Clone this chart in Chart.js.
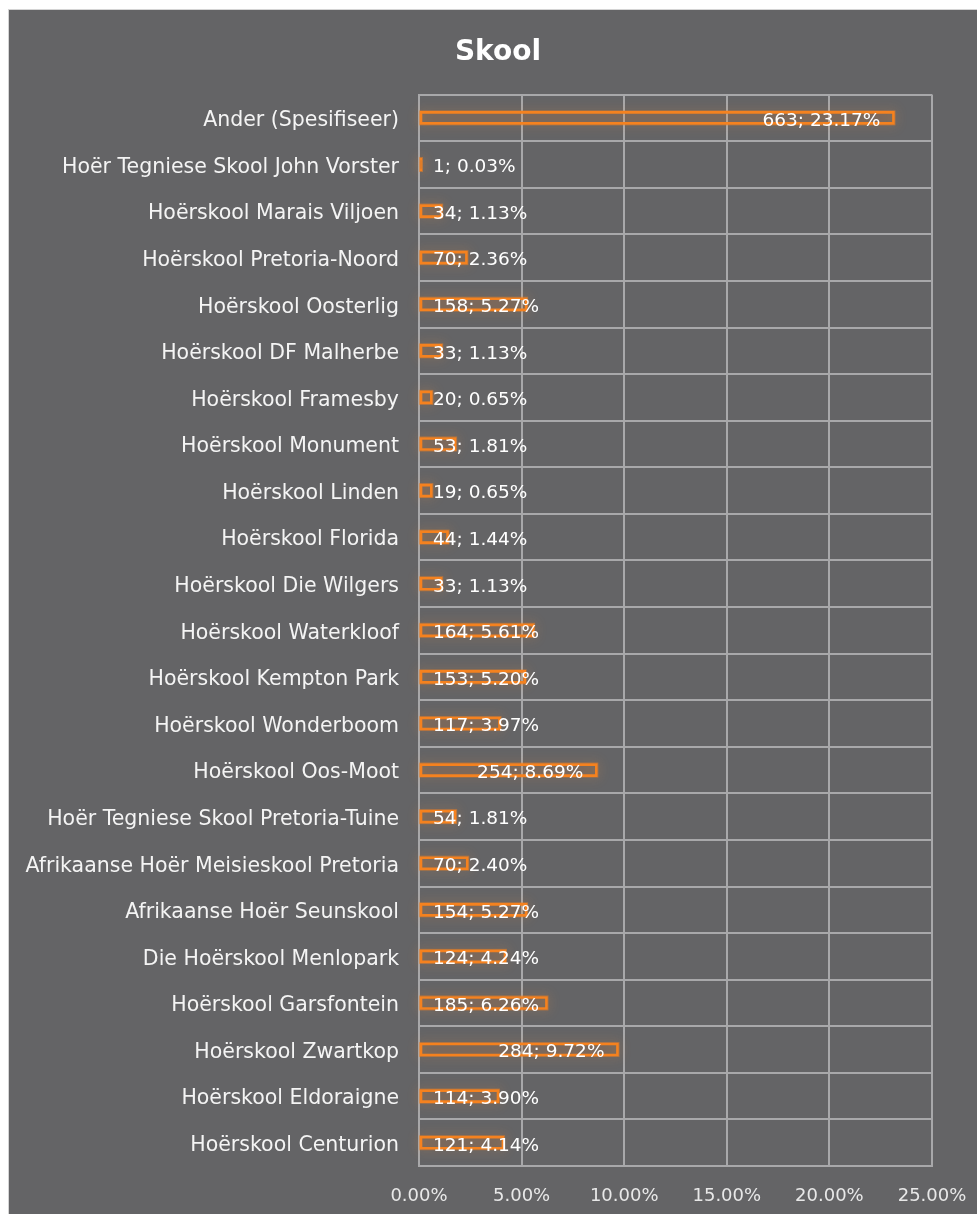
<!DOCTYPE html>
<html>
<head>
<meta charset="utf-8">
<script src="https://cdn.jsdelivr.net/npm/chart.js@4"></script>
<style>
  html, body { margin: 0; padding: 0; background: #ffffff; }
  #wrap {
    position: absolute;
    left: 8px;
    top: 9px;
    width: 969px;
    height: 1205px;
    background: #646466;
    border-left: 1px solid #d4d4d4;
    border-top: 1px solid #d4d4d4;
    box-sizing: border-box;
  }
</style>
</head>
<body>
<div id="wrap"><canvas id="chart"></canvas></div>
<script>
const schools = [
  "Ander (Spesifiseer)",
  "Hoër Tegniese Skool John Vorster",
  "Hoërskool Marais Viljoen",
  "Hoërskool Pretoria-Noord",
  "Hoërskool Oosterlig",
  "Hoërskool DF Malherbe",
  "Hoërskool Framesby",
  "Hoërskool Monument",
  "Hoërskool Linden",
  "Hoërskool Florida",
  "Hoërskool Die Wilgers",
  "Hoërskool Waterkloof",
  "Hoërskool Kempton Park",
  "Hoërskool Wonderboom",
  "Hoërskool Oos-Moot",
  "Hoër Tegniese Skool Pretoria-Tuine",
  "Afrikaanse Hoër Meisieskool Pretoria",
  "Afrikaanse Hoër Seunskool",
  "Die Hoërskool Menlopark",
  "Hoërskool Garsfontein",
  "Hoërskool Zwartkop",
  "Hoërskool Eldoraigne",
  "Hoërskool Centurion"
];
const counts = [663, 1, 34, 70, 158, 33, 20, 53, 19, 44, 33, 164, 153, 117, 254, 54, 70, 154, 124, 185, 284, 114, 121];
const percents = [23.17, 0.03, 1.13, 2.36, 5.27, 1.13, 0.65, 1.81, 0.65, 1.44, 1.13, 5.61, 5.20, 3.97, 8.69, 1.81, 2.40, 5.27, 4.24, 6.26, 9.72, 3.90, 4.14];
const xTicks = [0, 5, 10, 15, 20, 25];

const FONT = "'DejaVu Sans'";
const TEXT = "#f4f4f4";

// soft orange glow drawn around each bar before the bars themselves
const glow = {
  id: "glow",
  beforeDatasetsDraw(chart) {
    const ctx = chart.ctx;
    const meta = chart.getDatasetMeta(0);
    ctx.save();
    ctx.shadowColor = "rgba(250,150,60,0.9)";
    ctx.shadowBlur = 11;
    ctx.strokeStyle = "rgba(245,130,31,0.5)";
    ctx.lineWidth = 2;
    meta.data.forEach(bar => {
      const { x, y, base, height } = bar.getProps(["x", "y", "base", "height"]);
      ctx.strokeRect(base, y - height / 2, x - base, height);
    });
    ctx.restore();
  }
};

// "count; pct%" labels, inside end like Excel, pushed right for short bars
const barLabels = {
  id: "barLabels",
  afterDraw(chart) {
    const ctx = chart.ctx;
    const meta = chart.getDatasetMeta(0);
    ctx.save();
    ctx.font = "18.5px " + FONT;
    ctx.fillStyle = "#ffffff";
    ctx.textBaseline = "middle";
    ctx.textAlign = "left";
    meta.data.forEach((bar, i) => {
      const txt = counts[i] + "; " + percents[i].toFixed(2) + "%";
      const w = ctx.measureText(txt).width;
      const left = Math.max(bar.base + 13, bar.x - 14 - w);
      ctx.fillText(txt, left, bar.y + 3);
    });
    ctx.restore();
  }
};

new Chart(document.getElementById("chart"), {
  type: "bar",
  data: {
    labels: schools,
    datasets: [
      {
        data: percents,
        backgroundColor: "rgba(245,130,31,0.1)",
        borderColor: "#f5821f",
        borderWidth: 2,
        borderSkipped: false,
        barThickness: 13,
        minBarLength: 3
      }
    ]
  },
  options: {
    indexAxis: "y",
    responsive: true,
    maintainAspectRatio: false,
    animation: false,
    // negative right padding only widens the title box so "Skool" sits where Excel put it
    layout: { padding: { left: 0, right: -10, top: 0, bottom: 8 } },
    plugins: {
      legend: { display: false },
      tooltip: { enabled: false },
      title: {
        display: true,
        text: "Skool",
        color: "#ffffff",
        font: { family: FONT, size: 28, weight: "bold" },
        padding: { top: 26, bottom: 25 }
      }
    },
    scales: {
      x: {
        min: 0,
        max: 25,
        afterBuildTicks(scale) {
          scale.ticks = xTicks.map(v => ({ value: v }));
        },
        ticks: {
          color: "#e8e8e8",
          font: { family: FONT, size: 18 },
          padding: 20,
          callback: v => v.toFixed(2) + "%"
        },
        grid: { color: "#a8a8aa", lineWidth: 2, drawTicks: false },
        border: { display: true, color: "#a8a8aa", width: 2 },
        afterFit(scale) {
          scale.height = 40;
          scale.paddingLeft = 0;
          scale.paddingRight = 45;
        }
      },
      y: {
        ticks: {
          color: TEXT,
          font: { family: FONT, size: 20.5 },
          padding: 20,
          labelOffset: 3,
          autoSkip: false
        },
        grid: { color: "#a8a8aa", lineWidth: 2, drawTicks: false },
        border: { display: true, color: "#a8a8aa", width: 2 },
        afterFit(scale) { scale.width = 410; }
      }
    }
  },
  plugins: [glow, barLabels]
});
</script>
</body>
</html>
